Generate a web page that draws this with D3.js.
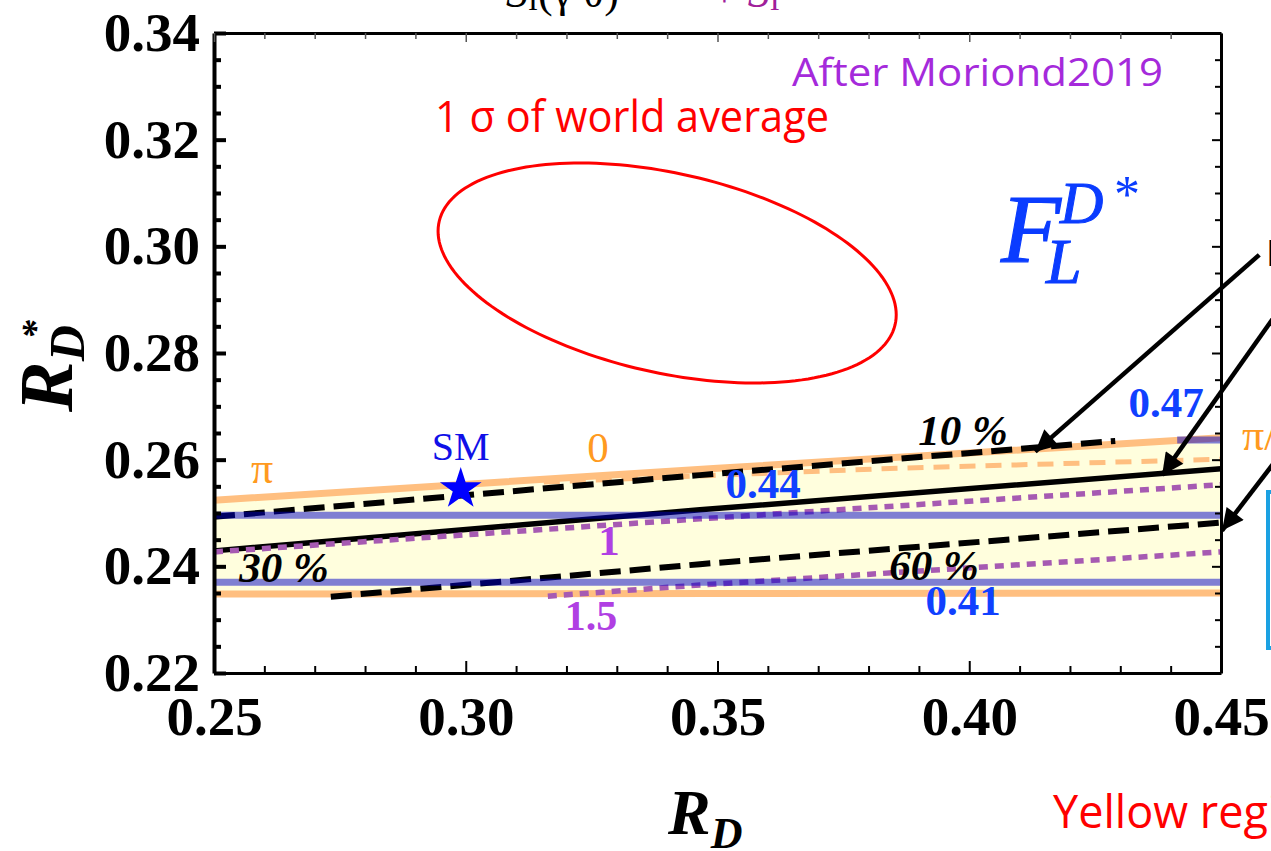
<!DOCTYPE html>
<html><head><meta charset="utf-8">
<script src="https://cdn.jsdelivr.net/npm/d3@7"></script>
<style>body{margin:0;background:#fff;overflow:hidden}svg{display:block}</style>
</head><body>
<svg id="c" width="1271" height="851"></svg>
<script>
// ---------- data ----------
const xTicks = [0.25, 0.30, 0.35, 0.40, 0.45];
const yTicks = [0.22, 0.24, 0.26, 0.28, 0.30, 0.32, 0.34];
const xMinor = [0.26,0.27,0.28,0.29,0.31,0.32,0.33,0.34,0.36,0.37,0.38,0.39,0.41,0.42,0.43,0.44];
const yMinor = [0.225,0.23,0.235,0.245,0.25,0.255,0.265,0.27,0.275,0.285,0.29,0.295,0.305,0.31,0.315,0.325,0.33,0.335];

// allowed band (orange envelope)
const bandX      = [0.25, 0.35, 0.45];
const bandTopY   = [0.2524, 0.2584, 0.2641];
const bandBotY   = [0.2348, 0.2349, 0.2350];
// orange dashed (intermediate phase)
const orangeDash = [[0.3155,0.2558],[0.3827,0.2583],[0.45,0.2601]];
// black contours
const black10    = [[0.25,0.2493],[0.3465,0.2571],[0.4290,0.2635]];
const blackSolid = [[0.25,0.2429],[0.3465,0.2506],[0.45,0.2583]];
const black60    = [[0.2732,0.2343],[0.3465,0.2404],[0.45,0.2482]];
// purple dotted contours
const purple1    = [[0.25,0.2427],[0.3465,0.2489],[0.45,0.2553]];
const purple15   = [[0.3163,0.2344],[0.3465,0.2365],[0.45,0.2427]];
// F_L^{D*} contours (horizontal)
const flLabels = ["0.47", "0.44", "0.41"];
const flY      = [0.2637, 0.2496, 0.2370];
const flX0     = [0.4413, 0.25, 0.25];
// SM point
const smPoint = [0.299, 0.2545];
// world average (HFLAV 2019)
const waCenter = [0.340, 0.295];
const waSigma  = [0.030, 0.0136];
const waRho    = -0.38;
const waDchi2  = 2.3;
// annotation arrows [start, tip] in data coords
const arrows = [
  [[0.4576,0.2984],[0.4131,0.2615]],
  [[0.4611,0.2875],[0.4383,0.2571]],
  [[0.4611,0.2601],[0.4502,0.2467]]
];

// ---------- scales ----------
const svg = d3.select("#c");
const x = d3.scaleLinear().domain([0.25, 0.45]).range([214, 1221]);
const y = d3.scaleLinear().domain([0.22, 0.34]).range([673, 33]);
const line = d3.line().x(d => x(d[0])).y(d => y(d[1]));
const SERIF = "'Liberation Serif','Times New Roman',serif";
const SANS = "'Open Sans',sans-serif";

svg.append("rect").attr("width",1271).attr("height",851).attr("fill","#fff");

const defs = svg.append("defs");
defs.append("marker").attr("id","ah").attr("viewBox","0 0 10 10").attr("refX",10).attr("refY",5)
  .attr("markerWidth",6.2).attr("markerHeight",4.8).attr("markerUnits","strokeWidth").attr("orient","auto")
  .append("path").attr("d","M0,0L10,5L0,10Z").attr("fill","#000");

// band fill
const area = d3.area().x((d,i)=>x(bandX[i])).y0((d,i)=>y(bandBotY[i])).y1((d,i)=>y(bandTopY[i]));
svg.append("path").datum(bandX).attr("d", area).attr("fill","#FFFEDD");

// ellipse (1 sigma, 2 d.o.f.)
const k = Math.sqrt(waDchi2);
const ell = d3.range(0, 2*Math.PI + 0.01, Math.PI/90).map(t => [
  waCenter[0] + k*waSigma[0]*Math.cos(t),
  waCenter[1] + k*waSigma[1]*(waRho*Math.cos(t) + Math.sqrt(1-waRho*waRho)*Math.sin(t))
]);
svg.append("path").datum(ell).attr("d", line).attr("fill","none").attr("stroke","#F00").attr("stroke-width",3);

// orange lines
const orange = "#FFBF80";
svg.append("path").datum(bandX.map((v,i)=>[v,bandTopY[i]])).attr("d",line).attr("fill","none").attr("stroke",orange).attr("stroke-width",7);
svg.append("path").datum(bandX.map((v,i)=>[v,bandBotY[i]])).attr("d",line).attr("fill","none").attr("stroke",orange).attr("stroke-width",7);
svg.append("path").datum(orangeDash).attr("d",line).attr("fill","none").attr("stroke",orange).attr("stroke-width",5).attr("stroke-dasharray","16,10");

// black lines
svg.append("path").datum(black10).attr("d",line).attr("fill","none").attr("stroke","#000").attr("stroke-width",6).attr("stroke-dasharray","21,9");
svg.append("path").datum(blackSolid).attr("d",line).attr("fill","none").attr("stroke","#000").attr("stroke-width",5.5);
svg.append("path").datum(black60).attr("d",line).attr("fill","none").attr("stroke","#000").attr("stroke-width",6).attr("stroke-dasharray","21,9");

// purple dotted
const purple = "#A65AB2";
[purple1, purple15].forEach(p => svg.append("path").datum(p).attr("d",line).attr("fill","none")
  .attr("stroke",purple).attr("stroke-width",5.5).attr("stroke-dasharray","9,7"));

// blue F_L lines (semi transparent)
flY.forEach((v,i) => svg.append("path").datum([[flX0[i],v],[0.45,v]]).attr("d",line)
  .attr("fill","none").attr("stroke","#0000C8").attr("stroke-opacity",0.5).attr("stroke-width",7));

// SM star
svg.append("path").attr("d", d3.symbol(d3.symbolStar, 540)())
  .attr("transform", `translate(${x(smPoint[0])},${y(smPoint[1])})`).attr("fill","#0000FF");

// ---------- axes ----------
const fmt = d3.format(".2f");
function styleAxis(g, w, col) {
  g.select(".domain").attr("stroke", col||"#000").attr("stroke-width", w);
  g.selectAll(".tick line").attr("stroke", col||"#000");
}
const gl = svg.append("g").attr("transform","translate(214,0)")
  .call(d3.axisLeft(y).tickValues(yTicks).tickSize(-12).tickSizeOuter(0).tickPadding(14).tickFormat(fmt));
styleAxis(gl, 4); gl.selectAll(".tick line").attr("stroke-width",4);
gl.selectAll("text").attr("font-family",SERIF).attr("font-weight","bold").attr("font-size",55).attr("fill","#000");
const glm = svg.append("g").attr("transform","translate(214,0)")
  .call(d3.axisLeft(y).tickValues(yMinor).tickSize(-7).tickSizeOuter(0).tickFormat(""));
glm.select(".domain").remove(); glm.selectAll(".tick line").attr("stroke","#000").attr("stroke-width",4);

const gb = svg.append("g").attr("transform","translate(0,673)")
  .call(d3.axisBottom(x).tickValues(xTicks).tickSize(-12).tickSizeOuter(0).tickPadding(23).tickFormat(fmt));
styleAxis(gb, 3); gb.selectAll(".tick line").attr("stroke-width",2);
gb.selectAll("text").attr("font-family",SERIF).attr("font-weight","bold").attr("font-size",55).attr("fill","#000");
const gbm = svg.append("g").attr("transform","translate(0,673)")
  .call(d3.axisBottom(x).tickValues(xMinor).tickSize(-7).tickSizeOuter(0).tickFormat(""));
gbm.select(".domain").remove(); gbm.selectAll(".tick line").attr("stroke","#000").attr("stroke-width",2);

const gt = svg.append("g").attr("transform","translate(0,33)")
  .call(d3.axisTop(x).tickValues(xTicks).tickSize(-9).tickSizeOuter(0).tickFormat(""));
styleAxis(gt, 3); gt.selectAll(".tick line").attr("stroke","#555").attr("stroke-width",1.5);
const gtm = svg.append("g").attr("transform","translate(0,33)")
  .call(d3.axisTop(x).tickValues(xMinor).tickSize(-6).tickSizeOuter(0).tickFormat(""));
gtm.select(".domain").remove(); gtm.selectAll(".tick line").attr("stroke","#555").attr("stroke-width",1.5);

const gr = svg.append("g").attr("transform","translate(1221,0)")
  .call(d3.axisRight(y).tickValues(yTicks).tickSize(-9).tickSizeOuter(0).tickFormat(""));
styleAxis(gr, 3); gr.selectAll(".tick line").attr("stroke-width",2);
const grm = svg.append("g").attr("transform","translate(1221,0)")
  .call(d3.axisRight(y).tickValues(yMinor).tickSize(-6).tickSizeOuter(0).tickFormat(""));
grm.select(".domain").remove(); grm.selectAll(".tick line").attr("stroke","#000").attr("stroke-width",2);

// axis titles
const xt = svg.append("text").attr("x",668).attr("y",834).attr("font-family",SERIF)
  .attr("font-weight","bold").attr("font-style","italic").attr("font-size",64).attr("fill","#000");
xt.append("tspan").text("R");
xt.append("tspan").attr("font-size",44).attr("dy",14).text("D");
const yt = svg.append("text").attr("transform","translate(72,412) rotate(-90)").attr("font-family",SERIF)
  .attr("font-weight","bold").attr("font-style","italic").attr("font-size",76).attr("fill","#000");
yt.append("tspan").text("R");
yt.append("tspan").attr("font-size",50).attr("dy",12).text("D");
yt.append("tspan").attr("font-size",38).attr("dy",-36).attr("dx",-14).text("*");

// ---------- labels ----------
function lab(t, px, py, o) {
  return svg.append("text").attr("x",px).attr("y",py).attr("text-anchor",o.anchor||"middle")
    .attr("font-family",o.fam||SERIF).attr("font-weight",o.w||"normal").attr("font-style",o.st||"normal")
    .attr("font-size",o.fs).attr("fill",o.c).text(t);
}
const blueLab = "#1040FF", purpLab = "#B03FE3", orLab = "#FF9A20";
lab("SM", x(smPoint[0]), 460, {fs:40, c:"#1010E8"});
lab("π", 262, 483, {fs:44, c:orLab});
lab("0", 598, 462, {fs:43, c:orLab});
lab("π/2", 1242, 450, {fs:44, c:orLab, anchor:"start"});
lab("10 %", 963, 445, {fs:43, c:"#000", w:"bold", st:"italic"});
lab("30 %", 284, 582, {fs:43, c:"#000", w:"bold", st:"italic"});
lab("60 %", 934, 580, {fs:43, c:"#000", w:"bold", st:"italic"});
const flPos = [[1166,417],[763,498],[963,615]];
flLabels.forEach((t,i)=>lab(t, flPos[i][0], flPos[i][1], {fs:43, c:blueLab, w:"bold"}));
lab("1", 609, 555, {fs:43, c:purpLab, w:"bold"});
lab("1.5", 591, 630, {fs:42, c:purpLab, w:"bold"});

lab("After Moriond2019", 792, 86, {fs:38, c:"#A52ADB", fam:SANS, anchor:"start"}).attr("textLength",371).attr("lengthAdjust","spacingAndGlyphs");
lab("1 σ of world average", 435, 132, {fs:44, c:"#F00", fam:SANS, anchor:"start"}).attr("textLength",394).attr("lengthAdjust","spacingAndGlyphs");
lab("Yellow region", 1053, 828, {fs:45, c:"#F00", fam:SANS, anchor:"start"});

// F_L^{D*}
const fBlue = "#0A3CFF";
svg.append("text").attr("x",1001).attr("y",262).attr("font-family",SERIF).attr("font-style","italic")
  .attr("fill",fBlue).attr("stroke",fBlue).attr("stroke-width",1.2).attr("font-size",98).text("F");
svg.append("text").attr("x",1046).attr("y",283).attr("font-family",SERIF).attr("font-style","italic")
  .attr("fill",fBlue).attr("stroke",fBlue).attr("stroke-width",1).attr("font-size",64).text("L");
svg.append("text").attr("x",1060).attr("y",223).attr("font-family",SERIF).attr("font-style","italic")
  .attr("fill",fBlue).attr("stroke",fBlue).attr("stroke-width",1).attr("font-size",60).text("D");
svg.append("text").attr("x",1114).attr("y",212).attr("font-family",SERIF)
  .attr("fill",fBlue).attr("font-size",52).text("*");

// top (cut-off) formula
const tf = svg.append("text").attr("x",506).attr("y",7).attr("font-family",SERIF).attr("font-size",44).attr("fill","#000");
tf.append("tspan").attr("font-style","italic").text("S");
tf.append("tspan").attr("font-size",30).attr("dy",3).text("I");
tf.append("tspan").attr("dy",-3).text("(γ θ)");
const tp = svg.append("text").attr("x",712).attr("y",7).attr("font-family",SERIF).attr("font-size",44).attr("fill","#A0209A");
tp.append("tspan").text("+ ");
tp.append("tspan").attr("font-style","italic").text("S");
tp.append("tspan").attr("font-size",30).attr("dy",3).text("I");

// arrows
arrows.forEach(a => svg.append("line").attr("x1",x(a[0][0])).attr("y1",y(a[0][1])).attr("x2",x(a[1][0])).attr("y2",y(a[1][1]))
  .attr("stroke","#000").attr("stroke-width",4.5).attr("marker-end","url(#ah)"));

// right-side cut-off elements
svg.append("rect").attr("x",1268).attr("y",492).attr("width",60).attr("height",156).attr("fill","none").attr("stroke","#1BA1E2").attr("stroke-width",4);
svg.append("text").attr("x",1266).attr("y",266).attr("font-family",SANS).attr("font-size",36).attr("fill","#000").text("B");
</script>
</body></html>
